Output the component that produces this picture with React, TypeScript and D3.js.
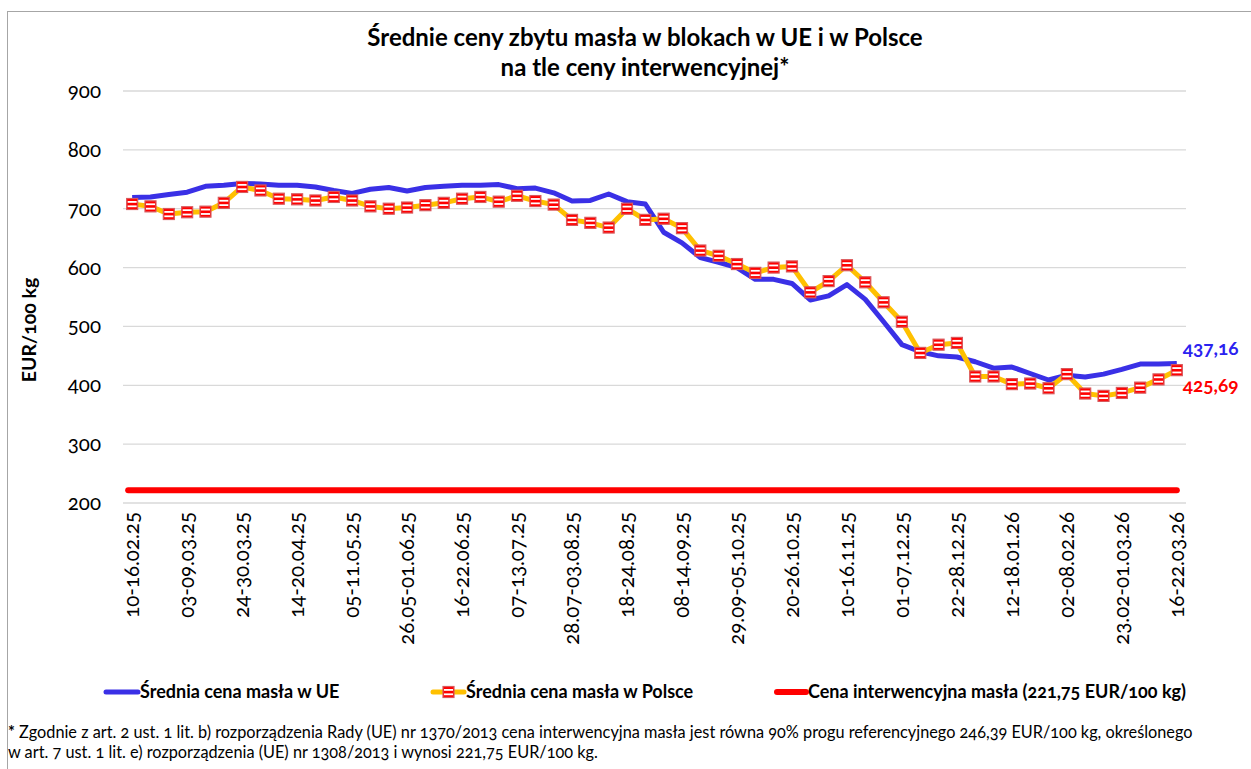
import * as d3 from 'd3';
import { useEffect, useRef } from 'react';

// weekly quotes, 10-16.02.25 .. 16-22.03.26
const weeks = [
  '10-16.02.25', '17-23.02.25', '24.02-02.03.25', '03-09.03.25', '10-16.03.25', '17-23.03.25',
  '24-30.03.25', '31.03-06.04.25', '07-13.04.25', '14-20.04.25', '21-27.04.25', '28.04-04.05.25',
  '05-11.05.25', '12-18.05.25', '19-25.05.25', '26.05-01.06.25', '02-08.06.25', '09-15.06.25',
  '16-22.06.25', '23-29.06.25', '30.06-06.07.25', '07-13.07.25', '14-20.07.25', '21-27.07.25',
  '28.07-03.08.25', '04-10.08.25', '11-17.08.25', '18-24.08.25', '25-31.08.25', '01-07.09.25',
  '08-14.09.25', '15-21.09.25', '22-28.09.25', '29.09-05.10.25', '06-12.10.25', '13-19.10.25',
  '20-26.10.25', '27.10-02.11.25', '03-09.11.25', '10-16.11.25', '17-23.11.25', '24-30.11.25',
  '01-07.12.25', '08-14.12.25', '15-21.12.25', '22-28.12.25', '29.12-04.01.26', '05-11.01.26',
  '12-18.01.26', '19-25.01.26', '26.01-01.02.26', '02-08.02.26', '09-15.02.26', '16-22.02.26',
  '23.02-01.03.26', '02-08.03.26', '09-15.03.26', '16-22.03.26',
];

const priceUE = [
  719, 720, 724, 728, 738, 740, 743, 742, 740, 740, 737, 731,
  726, 733, 736, 730, 736, 738, 740, 740, 741, 734, 735, 727,
  713, 714, 725, 712, 708, 660, 642, 617, 609, 600, 580, 580,
  573, 545, 552, 571, 546, 508, 469, 457, 450, 448, 440, 429,
  431, 420, 409, 417, 414, 419, 427, 436, 436, 437.16,
];

const pricePL = [
  708, 704, 691, 694, 695, 710, 737, 731, 717, 716, 714, 720,
  714, 704, 700, 702, 706, 710, 717, 720, 712, 722, 713, 707,
  681, 676, 668, 700, 681, 683, 667, 629, 620, 606, 591, 600,
  602, 558, 577, 604, 575, 541, 508, 455, 469, 472, 415, 415,
  402, 403, 395, 419, 386, 382, 387, 396, 410, 425.69,
];

const interventionPrice = 221.75;
const yTicks = [200, 300, 400, 500, 600, 700, 800, 900];

const seriesNames = [
  'Średnia cena masła w UE',
  'Średnia cena masła w Polsce',
  'Cena interwencyjna masła (221,75 EUR/100 kg)',
];

const W = 1251;
const H = 769;
const FONT = 'Lato, "Open Sans", sans-serif';
const BLUE = '#3a30e6';
const GOLD = '#ffc000';
const RED = '#ff0000';

function App() {
  const ref = useRef<SVGSVGElement>(null);

  useEffect(() => {
    const svg = d3.select(ref.current);
    svg.selectAll('*').remove();
    svg.style('font-family', FONT).style('font-variant-numeric', 'oldstyle-nums');

    // chart frame
    svg.append('rect')
      .attr('x', 7.5).attr('y', 11.5)
      .attr('width', W + 20).attr('height', H + 20)
      .attr('fill', '#fff').attr('stroke', '#a6a6a6');

    // title
    const title = svg.append('text')
      .attr('text-anchor', 'middle')
      .attr('font-weight', 700)
      .attr('font-size', 24)
      .attr('fill', '#000');
    title.append('tspan').attr('x', 645).attr('y', 46).text('Średnie ceny zbytu masła w blokach w UE i w Polsce');
    title.append('tspan').attr('x', 645).attr('y', 76).text('na tle ceny interwencyjnej*');

    const x = d3.scaleBand<number>()
      .domain(d3.range(weeks.length))
      .range([123, 1186]);
    const cx = (i: number) => (x(i) as number) + x.bandwidth() / 2;

    const y = d3.scaleLinear().domain([200, 900]).range([503, 91]);

    // gridlines
    svg.append('g')
      .selectAll('line')
      .data(yTicks)
      .join('line')
      .attr('x1', 123).attr('x2', 1186)
      .attr('y1', (d) => y(d)).attr('y2', (d) => y(d))
      .attr('stroke', '#d9d9d9')
      .attr('stroke-width', 1.3);

    // y axis
    const yAxis = svg.append('g')
      .attr('transform', 'translate(123,0)')
      .call(d3.axisLeft(y).tickValues(yTicks).tickSize(0).tickPadding(22).tickFormat((d) => String(d)));
    yAxis.select('.domain').remove();
    yAxis.selectAll('text')
      .attr('font-family', FONT)
      .attr('font-size', 20.5)
      .attr('fill', '#000');

    svg.append('text')
      .attr('transform', 'translate(36,330) rotate(-90)')
      .attr('text-anchor', 'middle')
      .attr('font-weight', 700)
      .attr('font-size', 19.5)
      .text('EUR/100 kg');

    // x axis
    const xAxis = svg.append('g')
      .attr('transform', 'translate(0,503)')
      .call(d3.axisBottom(x).tickValues(d3.range(0, weeks.length, 3)).tickSize(0).tickFormat((i) => weeks[i]));
    xAxis.select('.domain').remove();
    xAxis.selectAll('text')
      .attr('font-family', FONT)
      .attr('font-size', 20.5)
      .attr('fill', '#000')
      .attr('text-anchor', 'end')
      .attr('dy', '0.35em')
      .attr('transform', 'translate(0,9) rotate(-90)')
      .attr('y', 0)
      .attr('x', 0);

    // intervention price
    svg.append('line')
      .attr('x1', cx(0) - 4).attr('x2', cx(weeks.length - 1))
      .attr('y1', y(interventionPrice)).attr('y2', y(interventionPrice))
      .attr('stroke', RED).attr('stroke-width', 6).attr('stroke-linecap', 'round');

    const line = d3.line<number>().x((_, i) => cx(i)).y((d) => y(d));

    svg.append('path')
      .attr('d', line(priceUE))
      .attr('fill', 'none').attr('stroke', BLUE).attr('stroke-width', 5)
      .attr('stroke-linejoin', 'round');

    svg.append('path')
      .attr('d', line(pricePL))
      .attr('fill', 'none').attr('stroke', GOLD).attr('stroke-width', 5)
      .attr('stroke-linejoin', 'round');

    const marker = (g: d3.Selection<SVGGElement, unknown, null, undefined>) => {
      g.append('rect').attr('x', -5.5).attr('y', -5.5).attr('width', 11).attr('height', 11)
        .attr('fill', '#ff0000').attr('stroke', '#d9585c').attr('stroke-width', 1.2);
      g.append('rect').attr('x', -4.5).attr('y', -3).attr('width', 9).attr('height', 1.8).attr('fill', '#fff');
      g.append('rect').attr('x', -4.5).attr('y', 1.4).attr('width', 9).attr('height', 1.8).attr('fill', '#fff');
    };

    pricePL.forEach((d, i) => {
      svg.append('g').attr('transform', `translate(${cx(i)},${y(d)})`).call(marker);
    });

    // end labels
    const last = weeks.length - 1;
    svg.append('text')
      .attr('x', cx(last) + 6).attr('y', y(priceUE[last]) - 8)
      .attr('font-size', 19).attr('font-weight', 700).attr('fill', '#2a22f0')
      .text(d3.format('.2f')(priceUE[last]).replace('.', ','));
    svg.append('text')
      .attr('x', cx(last) + 6).attr('y', y(pricePL[last]) + 22)
      .attr('font-size', 19).attr('font-weight', 700).attr('fill', RED)
      .text(d3.format('.2f')(pricePL[last]).replace('.', ','));

    // legend
    const ly = 692;
    const legend = svg.append('g').attr('font-size', 18).attr('font-weight', 700);
    legend.append('line').attr('x1', 106).attr('x2', 138).attr('y1', ly).attr('y2', ly)
      .attr('stroke', BLUE).attr('stroke-width', 5).attr('stroke-linecap', 'round');
    legend.append('text').attr('x', 140).attr('y', ly + 6).text(seriesNames[0]);

    legend.append('line').attr('x1', 433).attr('x2', 464).attr('y1', ly).attr('y2', ly)
      .attr('stroke', GOLD).attr('stroke-width', 5).attr('stroke-linecap', 'round');
    legend.append('g').attr('transform', `translate(448.5,${ly})`).call(marker);
    legend.append('text').attr('x', 466).attr('y', ly + 6).text(seriesNames[1]);

    legend.append('line').attr('x1', 777).attr('x2', 806).attr('y1', ly).attr('y2', ly)
      .attr('stroke', RED).attr('stroke-width', 6).attr('stroke-linecap', 'round');
    legend.append('text').attr('x', 808).attr('y', ly + 6).text(seriesNames[2]);

    // footnote
    const note = svg.append('g').attr('font-size', 16.3).attr('fill', '#000');
    const l1 = note.append('text').attr('x', 8).attr('y', 738);
    l1.append('tspan').attr('font-weight', 700).text('*');
    l1.append('tspan').text(' Zgodnie z art. 2 ust. 1 lit. b)  rozporządzenia Rady (UE) nr 1370/2013 cena interwencyjna masła jest równa 90% progu referencyjnego 246,39 EUR/100 kg, określonego');
    note.append('text').attr('x', 8).attr('y', 758)
      .text('w art. 7 ust. 1 lit. e) rozporządzenia (UE) nr 1308/2013 i wynosi 221,75 EUR/100 kg.');
  }, []);

  return (
    <div style={{ position: 'absolute', left: 0, top: 0 }}>
      <svg ref={ref} width={W} height={H} style={{ display: 'block' }} />
    </div>
  );
}

export default App;
